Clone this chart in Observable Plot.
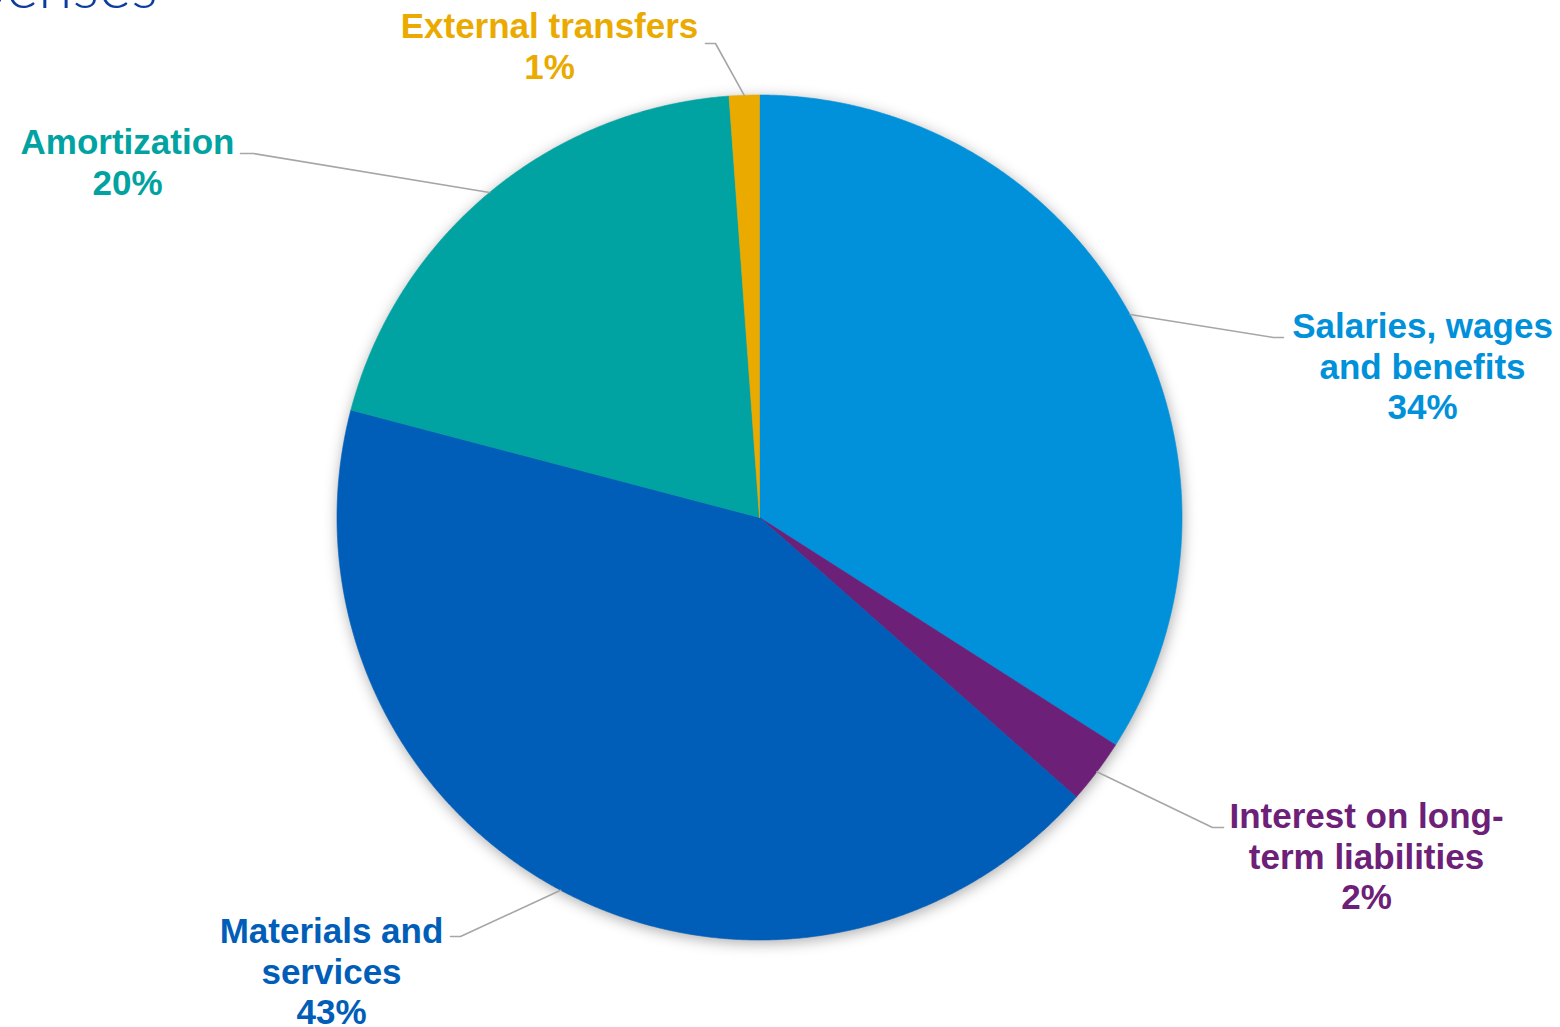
<!DOCTYPE html>
<html>
<head>
<meta charset="utf-8">
<script src="https://cdn.jsdelivr.net/npm/d3@7"></script>
<script src="https://cdn.jsdelivr.net/npm/@observablehq/plot@0.6"></script>
<style>
  html, body { margin: 0; padding: 0; background: #ffffff; overflow: hidden; }
  #chart svg { display: block; }
</style>
</head>
<body>
<div id="chart"></div>
<script>
// ---- data ----
const categories = [
  "Salaries, wages and benefits",
  "Interest on long-term liabilities",
  "Materials and services",
  "Amortization",
  "External transfers"
];
const shares = [34.05, 2.46, 42.58, 19.76, 1.15];
const labelTexts = [
  "Salaries, wages\nand benefits\n34%",
  "Interest on long-\nterm liabilities\n2%",
  "Materials and\nservices\n43%",
  "Amortization\n20%",
  "External transfers\n1%"
];
const titleText = "Expenses";

// ---- styles ----
const colors = ["#0091DA", "#6D2077", "#005EB8", "#00A3A1", "#EAAA00"];

// ---- layout ----
const W = 1560, H = 1027;
const cx = 759, cy = 517, R = 422.5;
// label anchors (center x, top y), elbow point and end of horizontal leader
const labelLayout = [
  {tx: 1422, ty: 308, ex: 1273, ey: 337, hx: 1283},
  {tx: 1366, ty: 798, ex: 1212, ey: 827, hx: 1223},
  {tx: 331,  ty: 913, ex: 460,  ey: 936, hx: 450},
  {tx: 127,  ty: 124, ex: 253,  ey: 153, hx: 240},
  {tx: 549,  ty: 8,   ex: 715,  ey: 43,  hx: 705}
];

const data = categories.map((name, i) => ({name, value: shares[i], label: labelTexts[i], ...labelLayout[i]}));
const arcs = d3.pie().sort(null).value(d => d.value)(data);

const px = a => cx + R * Math.sin(a);
const py = a => cy - R * Math.cos(a);

// slice polygons
const slicePts = [];
arcs.forEach(a => {
  const name = a.data.name;
  slicePts.push({name, x: cx, y: cy});
  const n = Math.max(4, Math.ceil((a.endAngle - a.startAngle) / (Math.PI / 720)));
  for (let k = 0; k <= n; k++) {
    const t = a.startAngle + (a.endAngle - a.startAngle) * k / n;
    slicePts.push({name, x: px(t), y: py(t)});
  }
  slicePts.push({name, x: cx, y: cy});
});

// leader lines: from slice mid-angle on the rim to the elbow then horizontal
const leaderPts = [];
arcs.forEach(a => {
  const d = a.data;
  const m = (a.startAngle + a.endAngle) / 2;
  leaderPts.push({name: d.name, x: px(m), y: py(m)});
  leaderPts.push({name: d.name, x: d.ex, y: d.ey});
  leaderPts.push({name: d.name, x: d.hx, y: d.ey});
});

const chart = Plot.plot({
  width: W,
  height: H,
  margin: 0,
  x: {domain: [0, W], range: [0, W], axis: null},
  y: {domain: [0, H], range: [0, H], axis: null},
  color: {domain: categories, range: colors},
  style: {background: "#ffffff", overflow: "visible"},
  marks: [
    Plot.line(slicePts, {x: "x", y: "y", z: "name", fill: "name", stroke: "name", strokeWidth: 0.6, curve: "linear"}),
    Plot.line(leaderPts, {x: "x", y: "y", z: "name", stroke: "#A6A6A6", strokeWidth: 1.6}),
    Plot.text(data, {
      x: "tx", y: "ty", text: "label", fill: "name",
      textAnchor: "middle", lineAnchor: "top", lineHeight: 1.17,
      fontFamily: "Liberation Sans, Arial, sans-serif", fontWeight: "bold", fontSize: 35
    }),
    Plot.text([titleText], {
      x: () => 157, y: () => 7 - 0.71 * 62, text: d => d,
      textAnchor: "end", lineAnchor: "top",
      fontFamily: "Lato, sans-serif", fontWeight: 300, fontSize: 62, fill: "#0B3D9E"
    })
  ]
});

document.getElementById("chart").appendChild(chart);

// soft shadow around the pie
const pieG = chart.querySelector('g[aria-label="line"]');
if (pieG) pieG.style.filter = "drop-shadow(1px 3px 7px rgba(0,0,0,0.32))";
</script>
</body>
</html>
